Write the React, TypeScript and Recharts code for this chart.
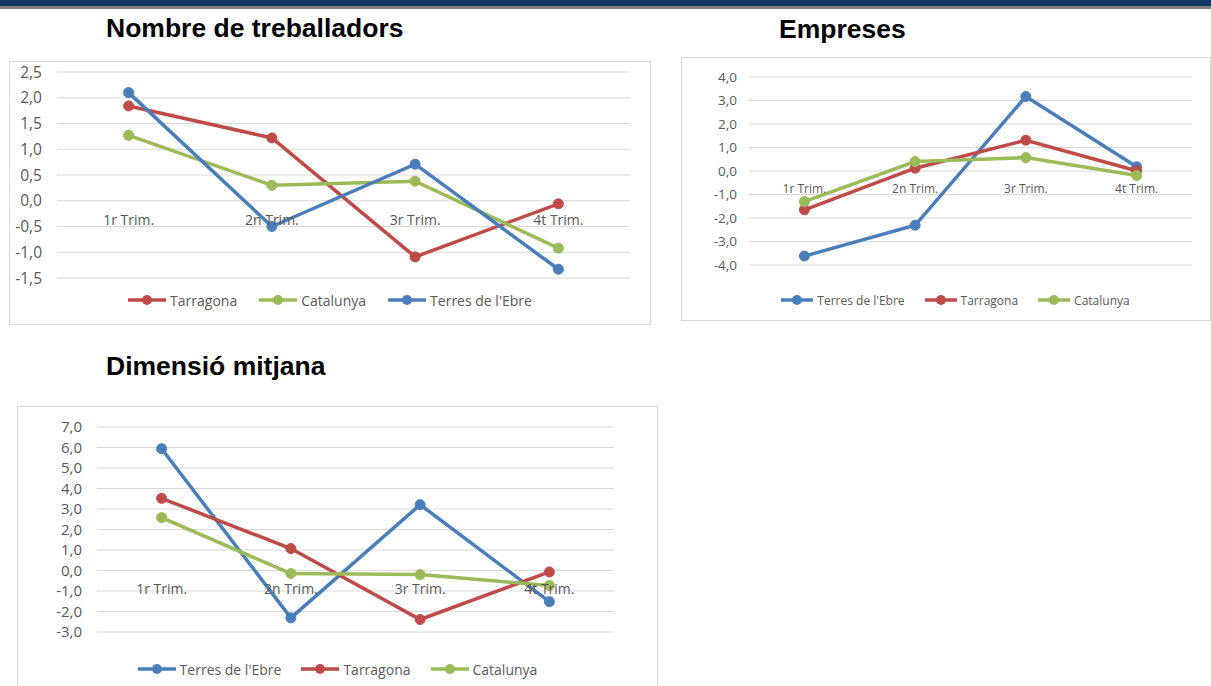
import React from "react";
import { LineChart, Line, XAxis, YAxis, CartesianGrid, Legend, ReferenceDot } from "recharts";

const quarters = ["1r Trim.", "2n Trim.", "3r Trim.", "4t Trim."];

const treballadorsTarragona = [1.84, 1.22, -1.09, -0.06];
const treballadorsCatalunya = [1.27, 0.3, 0.38, -0.92];
const treballadorsEbre = [2.1, -0.5, 0.71, -1.33];

const empresesEbre = [-3.62, -2.31, 3.17, 0.18];
const empresesTarragona = [-1.65, 0.12, 1.31, 0.01];
const empresesCatalunya = [-1.3, 0.4, 0.57, -0.19];

const dimensioEbre = [5.94, -2.31, 3.21, -1.52];
const dimensioTarragona = [3.52, 1.07, -2.39, -0.07];
const dimensioCatalunya = [2.58, -0.15, -0.2, -0.73];

const ticksTreballadors = [-1.5, -1, -0.5, 0, 0.5, 1, 1.5, 2, 2.5];
const ticksEmpreses = [-4, -3, -2, -1, 0, 1, 2, 3, 4];
const ticksDimensio = [-3, -2, -1, 0, 1, 2, 3, 4, 5, 6, 7];

const titles = ["Nombre de treballadors", "Empreses", "Dimensió mitjana"];

const BLUE = "#4a7ebb";
const RED = "#be4b48";
const GREEN = "#9bbb59";
const TEXT = "#595959";
const GRID = "#d9d9d9";
const FONT = "'Open Sans', 'Noto Sans', sans-serif";

type Series = { name: string; color: string; values: number[] };

function buildRows(series: Series[]) {
  return quarters.map((q, i) => {
    const row: any = { quarter: q };
    series.forEach((s) => {
      row[s.name] = s.values[i];
    });
    return row;
  });
}

const fmt = (v: number) => v.toFixed(1).replace(".", ",");

function makeLegend(fontSize: number, order: string[], iconW: number, gap: number, shift: number) {
  return (props: any) => {
    const payload = [...(props.payload || [])].sort(
      (a: any, b: any) => order.indexOf(a.value) - order.indexOf(b.value)
    );
    return (
      <div
        style={{
          display: "flex",
          justifyContent: "center",
          alignItems: "center",
          height: 20,
          paddingLeft: shift,
          fontFamily: FONT,
          fontSize,
          color: TEXT,
        }}
      >
        {payload.map((p: any, i: number) => (
          <div
            key={p.value}
            style={{ display: "flex", alignItems: "center", marginLeft: i === 0 ? 0 : gap }}
          >
            <svg width={iconW} height={20}>
              <line x1={0} y1={10} x2={iconW} y2={10} stroke={p.color} strokeWidth={3.5} />
              <circle cx={iconW / 2} cy={10} r={5} fill={p.color} />
            </svg>
            <span style={{ marginLeft: 4 }}>{p.value}</span>
          </div>
        ))}
      </div>
    );
  };
}

type PanelProps = {
  left: number;
  top: number;
  width: number;
  height: number;
  margin: { top: number; right: number; bottom: number; left: number };
  yWidth: number;
  yTickMargin: number;
  xHeight: number;
  ticks: number[];
  series: Series[];
  yFont: number;
  catFont: number;
  catOffset: number;
  legendFont: number;
  iconW: number;
  legendGap: number;
  legendShift: number;
};

function Panel(p: PanelProps) {
  const data = buildRows(p.series);
  const domain = [p.ticks[0], p.ticks[p.ticks.length - 1]];
  const order = p.series.map((s) => s.name);
  return (
    <>
      <div
        style={{
          position: "absolute",
          left: p.left,
          top: p.top,
          width: p.width,
          height: p.height,
          border: "1px solid #d9d9d9",
          boxSizing: "border-box",
        }}
      />
      <div style={{ position: "absolute", left: p.left, top: p.top }}>
        <LineChart width={p.width} height={p.height} data={data} margin={p.margin}>
          <CartesianGrid vertical={false} stroke={GRID} strokeWidth={1} />
          <XAxis
            dataKey="quarter"
            type="category"
            scale="band"
            tick={false}
            axisLine={false}
            tickLine={false}
            height={p.xHeight}
          />
          <YAxis
            type="number"
            domain={domain}
            ticks={p.ticks}
            interval={0}
            tickFormatter={fmt}
            axisLine={false}
            tickLine={false}
            width={p.yWidth}
            tickMargin={p.yTickMargin}
            tick={{ fontFamily: FONT, fontSize: p.yFont, fill: TEXT }}
          />
          {quarters.map((q) => (
            <ReferenceDot
              key={q}
              x={q}
              y={0}
              r={0}
              fill="none"
              stroke="none"
              label={{
                value: q,
                position: "bottom",
                offset: p.catOffset,
                fill: TEXT,
                fontSize: p.catFont,
                fontFamily: FONT,
              }}
            />
          ))}
          {p.series.map((s) => (
            <Line
              key={s.name}
              type="linear"
              dataKey={s.name}
              name={s.name}
              stroke={s.color}
              strokeWidth={3.5}
              dot={{ r: 5, fill: s.color, stroke: s.color, strokeWidth: 1 }}
              activeDot={false}
              isAnimationActive={false}
            />
          ))}
          <Legend
            verticalAlign="bottom"
            content={makeLegend(p.legendFont, order, p.iconW, p.legendGap, p.legendShift)}
          />
        </LineChart>
      </div>
    </>
  );
}

const titleStyle: React.CSSProperties = {
  position: "absolute",
  fontFamily: "'Liberation Sans', Arial, sans-serif",
  fontWeight: "bold",
  fontSize: 26.5,
  lineHeight: "30px",
  color: "#000",
  whiteSpace: "nowrap",
};

export default function App() {
  return (
    <div
      style={{
        position: "absolute",
        left: 0,
        top: 0,
        width: 1211,
        height: 686,
        overflow: "hidden",
        background: "#fff",
      }}
    >
      <div style={{ position: "absolute", left: 0, top: 0, width: 1211, height: 6, background: "#17375e" }} />
      <div style={{ position: "absolute", left: 0, top: 6, width: 1211, height: 3, background: "#808080" }} />

      <div style={{ ...titleStyle, left: 106, top: 13 }}>{titles[0]}</div>
      <div style={{ ...titleStyle, left: 779, top: 14 }}>{titles[1]}</div>
      <div style={{ ...titleStyle, left: 106, top: 351 }}>{titles[2]}</div>

      <Panel
        left={9}
        top={61}
        width={642}
        height={264}
        margin={{ top: 11, right: 21, bottom: 15, left: 0 }}
        yWidth={48}
        yTickMargin={9}
        xHeight={12}
        ticks={ticksTreballadors}
        series={[
          { name: "Tarragona", color: RED, values: treballadorsTarragona },
          { name: "Catalunya", color: GREEN, values: treballadorsCatalunya },
          { name: "Terres de l'Ebre", color: BLUE, values: treballadorsEbre },
        ]}
        yFont={15.5}
        catFont={14}
        catOffset={14}
        legendFont={14}
        iconW={38}
        legendGap={22}
        legendShift={21}
      />

      <Panel
        left={681}
        top={57}
        width={530}
        height={264}
        margin={{ top: 20, right: 19, bottom: 11, left: 0 }}
        yWidth={68}
        yTickMargin={6}
        xHeight={25}
        ticks={ticksEmpreses}
        series={[
          { name: "Terres de l'Ebre", color: BLUE, values: empresesEbre },
          { name: "Tarragona", color: RED, values: empresesTarragona },
          { name: "Catalunya", color: GREEN, values: empresesCatalunya },
        ]}
        yFont={13.5}
        catFont={12}
        catOffset={13}
        legendFont={12}
        iconW={32}
        legendGap={20}
        legendShift={38}
      />

      <Panel
        left={17}
        top={406}
        width={641}
        height={300}
        margin={{ top: 21, right: 44, bottom: 27, left: 0 }}
        yWidth={80}
        yTickMargin={9}
        xHeight={27}
        ticks={ticksDimensio}
        series={[
          { name: "Terres de l'Ebre", color: BLUE, values: dimensioEbre },
          { name: "Tarragona", color: RED, values: dimensioTarragona },
          { name: "Catalunya", color: GREEN, values: dimensioCatalunya },
        ]}
        yFont={15}
        catFont={14}
        catOffset={14}
        legendFont={14}
        iconW={38}
        legendGap={20}
        legendShift={44}
      />
    </div>
  );
}
